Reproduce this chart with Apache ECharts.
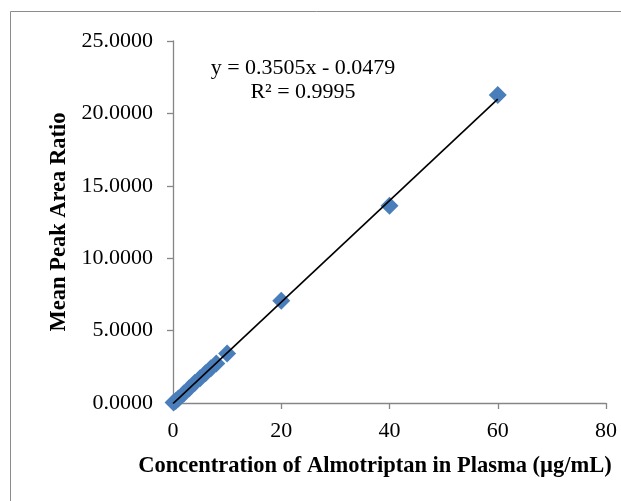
<!DOCTYPE html>
<html>
<head>
<meta charset="utf-8">
<script src="https://cdn.jsdelivr.net/npm/echarts@6/dist/echarts.min.js"></script>
<style>
  html, body { margin: 0; padding: 0; background: #fff; }
  #chart { width: 621px; height: 501px; }
</style>
</head>
<body>
<div id="chart"></div>
<script>
// Calibration standards: concentration (µg/mL) and mean peak area ratio
const concentrations = [0.1, 0.5, 1, 2, 3, 4, 5, 6, 7, 8, 10, 20, 40, 60];
const peakAreaRatios = [0.03, 0.14, 0.31, 0.66, 1.02, 1.38, 1.71, 2.06, 2.40, 2.72, 3.42, 7.06, 13.63, 21.27];

// Least-squares trendline reported on the chart
const slope = 0.3505;
const intercept = -0.0479;
const rSquared = 0.9995;
const trendRange = [0, 60];

const xTicks = { min: 0, max: 80, interval: 20 };
const yTicks = { min: 0, max: 25, interval: 5 };

const xTitle = 'Concentration of Almotriptan in Plasma (µg/mL)';
const yTitle = 'Mean Peak Area Ratio';

const points = concentrations.map((c, i) => [c, peakAreaRatios[i]]);
const trend = trendRange.map(x => [x, slope * x + intercept]);

const font = '"Liberation Serif", "Times New Roman", serif';
const axisGrey = '#868686';

const chart = echarts.init(document.getElementById('chart'), null, { renderer: 'canvas' });
chart.setOption({
  animation: false,
  backgroundColor: '#fff',
  grid: { left: 173, right: 15, top: 41, bottom: 98, outerBoundsMode: 'none', containLabel: false },
  xAxis: {
    type: 'value',
    min: xTicks.min, max: xTicks.max, interval: xTicks.interval,
    axisLine: { lineStyle: { color: axisGrey, width: 1.3 } },
    axisTick: { show: true, length: 6, lineStyle: { color: axisGrey, width: 1.3 } },
    axisLabel: { fontFamily: font, fontSize: 22, color: '#000', margin: 17 },
    splitLine: { show: false }
  },
  yAxis: {
    type: 'value',
    min: yTicks.min, max: yTicks.max, interval: yTicks.interval,
    name: yTitle,
    nameLocation: 'middle',
    nameGap: 101,
    nameRotate: 90,
    nameTextStyle: { fontFamily: font, fontSize: 22.5, fontWeight: 'bold', color: '#000' },
    axisLine: { show: true, lineStyle: { color: axisGrey, width: 1.3 } },
    axisTick: { show: true, length: 6, lineStyle: { color: axisGrey, width: 1.3 } },
    axisLabel: {
      fontFamily: font, fontSize: 22, color: '#000', margin: 20,
      formatter: v => v.toFixed(4)
    },
    splitLine: { show: false }
  },
  series: [
    {
      type: 'scatter',
      data: points,
      symbol: 'diamond',
      symbolSize: [18, 18],
      itemStyle: { color: '#4a7ebb', opacity: 1 },
      z: 2
    },
    {
      type: 'line',
      data: trend,
      symbol: 'none',
      lineStyle: { color: '#000', width: 1.6 },
      z: 3
    }
  ],
  graphic: [
    {
      type: 'rect',
      shape: { x: 10.5, y: 11.5, width: 700, height: 600 },
      style: { fill: null, stroke: '#8c8c8c', lineWidth: 1 },
      silent: true
    },
    {
      type: 'text',
      x: 375, y: 466,
      style: {
        text: xTitle,
        font: 'bold 22.5px ' + font, fill: '#000', align: 'center', verticalAlign: 'middle'
      }
    },
    {
      type: 'text',
      x: 303, y: 68,
      style: {
        text: 'y = ' + slope.toFixed(4) + 'x - ' + Math.abs(intercept).toFixed(4),
        font: '22px ' + font, fill: '#000', align: 'center', verticalAlign: 'middle'
      }
    },
    {
      type: 'text',
      x: 303, y: 92,
      style: {
        text: 'R² = ' + rSquared.toFixed(4),
        font: '22px ' + font, fill: '#000', align: 'center', verticalAlign: 'middle'
      }
    }
  ]
});
</script>
</body>
</html>
